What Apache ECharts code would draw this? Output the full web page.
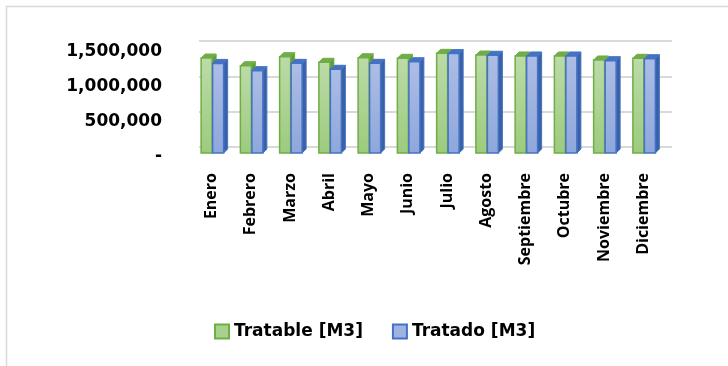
<!DOCTYPE html>
<html>
<head>
<meta charset="utf-8">
<script src="https://cdn.jsdelivr.net/npm/echarts@6/dist/echarts.min.js"></script>
<style>
  html, body { margin: 0; padding: 0; background: #fff; }
  #chart { width: 728px; height: 366px; }
</style>
</head>
<body>
<div id="chart"></div>
<script>
const meses = ['Enero', 'Febrero', 'Marzo', 'Abril', 'Mayo', 'Junio', 'Julio',
  'Agosto', 'Septiembre', 'Octubre', 'Noviembre', 'Diciembre']
const tratable = [1357000, 1247000, 1376000, 1296000, 1361000, 1353000, 1424000,
  1400000, 1386000, 1386000, 1329000, 1353000]
const tratado = [1280000, 1176000, 1281000, 1196000, 1281000, 1304000, 1420000,
  1396000, 1386000, 1386000, 1319000, 1347000]
const yTicks = [0, 500000, 1000000, 1500000]

const chart = echarts.init(document.getElementById('chart'))

// barra con cara frontal, tapa y lateral (aspecto 3D de Excel)
function bar3d(shift, front, edge, side) {
  return function (params, api) {
    const base = api.coord([api.value(0), 0])
    const top = api.coord([api.value(0), api.value(1)])
    const w = 11, d = 4
    const x = base[0] + shift
    return {
      type: 'group',
      children: [
        {
          type: 'polygon',
          shape: { points: [[x + w, top[1]], [x + w + d, top[1] - d], [x + w + d, base[1] - d], [x + w, base[1]]] },
          style: { fill: side, stroke: edge, lineWidth: 1 }
        },
        {
          type: 'polygon',
          shape: { points: [[x, top[1]], [x + d, top[1] - d], [x + w + d, top[1] - d], [x + w, top[1]]] },
          style: { fill: edge, stroke: edge, lineWidth: 1 }
        },
        {
          type: 'rect',
          shape: { x: x, y: top[1], width: w, height: base[1] - top[1] },
          style: {
            fill: new echarts.graphic.LinearGradient(0, 0, 0, 1, [
              { offset: 0, color: front[0] },
              { offset: 1, color: front[1] }
            ]),
            stroke: edge,
            lineWidth: 1.5
          }
        }
      ]
    }
  }
}

const fmt = v => v === 0 ? '-' : v.toLocaleString('en-US')

chart.setOption({
  animation: false,
  graphic: [{
    type: 'rect',
    shape: { x: 6.5, y: 6.5, width: 800, height: 400 },
    style: { fill: 'none', stroke: '#d9d9d9', lineWidth: 1.5 },
    silent: true
  }],
  legend: {
    left: 209,
    top: 318,
    itemWidth: 14,
    itemHeight: 14,
    itemGap: 29,
    icon: 'rect',
    textStyle: { fontFamily: 'DejaVu Sans', fontWeight: 'bold', fontSize: 17, color: '#000' },
    data: ['Tratable [M3]', 'Tratado [M3]']
  },
  grid: [
    { left: 192, right: 65, top: 48, bottom: 213 },
    { left: 199, right: 56, top: 41, bottom: 219 }
  ],
  xAxis: [
    {
      gridIndex: 0,
      type: 'category',
      data: meses,
      axisLine: { show: false },
      axisTick: { show: false },
      axisLabel: {
        rotate: 90,
        margin: 20,
        interval: 0,
        fontFamily: 'Open Sans',
        fontWeight: 'bold',
        fontSize: 16,
        color: '#000'
      }
    },
    {
      gridIndex: 1,
      type: 'category',
      data: meses,
      show: false
    }
  ],
  yAxis: [
    {
      gridIndex: 0,
      type: 'value',
      min: 0,
      max: 1500000,
      interval: 500000,
      splitLine: { show: false },
      axisLine: { show: false },
      axisTick: { show: false },
      axisLabel: {
        margin: 30,
        color: '#000',
        formatter: v => yTicks.includes(v) ? '{a|' + fmt(v) + '}' : '',
        rich: {
          a: {
            padding: [8, 0, 0, 0],
            fontFamily: 'DejaVu Sans',
            fontWeight: 'bold',
            fontSize: 17,
            color: '#000'
          }
        }
      }
    },
    {
      gridIndex: 1,
      type: 'value',
      min: 0,
      max: 1500000,
      interval: 500000,
      axisLabel: { show: false },
      axisLine: { show: false },
      axisTick: { show: false },
      splitLine: { lineStyle: { color: '#d9d9d9', width: 2 } }
    }
  ],
  series: [
    {
      name: 'Tratable [M3]',
      type: 'custom',
      xAxisIndex: 0,
      yAxisIndex: 0,
      itemStyle: { color: '#a9d18e', borderColor: '#70ad47', borderWidth: 1.5 },
      renderItem: bar3d(-10.5, ['#bcdba8', '#9ccb7d'], '#70ad47', '#5e9a3a'),
      data: tratable.map((v, i) => [i, v])
    },
    {
      name: 'Tratado [M3]',
      type: 'custom',
      xAxisIndex: 0,
      yAxisIndex: 0,
      itemStyle: { color: '#9eb3e0', borderColor: '#4472c4', borderWidth: 1.5 },
      renderItem: bar3d(1, ['#adbde5', '#8ea7db'], '#4472c4', '#3a60a6'),
      data: tratado.map((v, i) => [i, v])
    }
  ]
})
</script>
</body>
</html>
